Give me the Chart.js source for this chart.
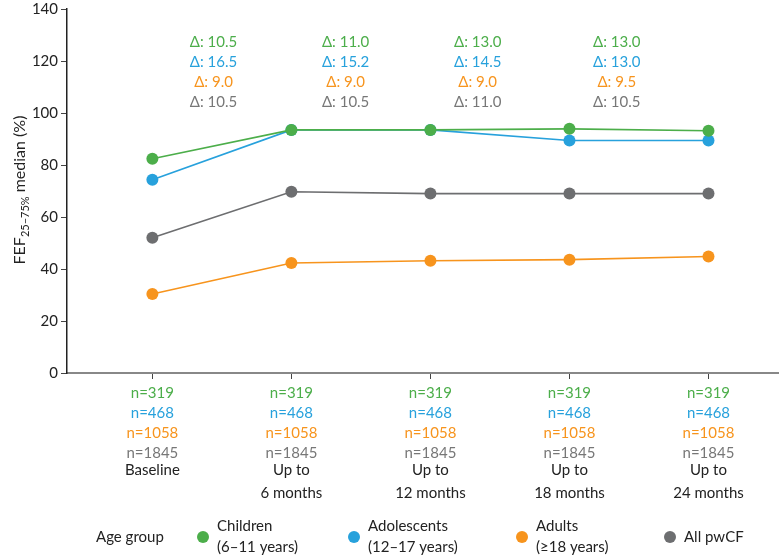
<!DOCTYPE html>
<html>
<head>
<meta charset="utf-8">
<script src="https://cdn.jsdelivr.net/npm/chart.js@4/dist/chart.umd.min.js"></script>
<style>
  html, body { margin: 0; padding: 0; background: #fff; }
</style>
</head>
<body>
<canvas id="fefChart" width="784" height="558"></canvas>
<script>
// Категории по оси X
const categories = [['Baseline'], ['Up to', '6 months'], ['Up to', '12 months'], ['Up to', '18 months'], ['Up to', '24 months']];

// Медиана FEF25–75% по группам
const children = [82.4, 93.5, 93.5, 93.9, 93.2];
const adolescents = [74.3, 93.5, 93.5, 89.4, 89.4];
const adults = [30.4, 42.3, 43.2, 43.6, 44.8];
const allPwCF = [52.0, 69.7, 69.0, 69.0, 69.0];

// Число пациентов в каждой точке
const nChildren = [319, 319, 319, 319, 319];
const nAdolescents = [468, 468, 468, 468, 468];
const nAdults = [1058, 1058, 1058, 1058, 1058];
const nAll = [1845, 1845, 1845, 1845, 1845];

// Разница (Δ) между точками
const deltaChildren = ['10.5', '11.0', '13.0', '13.0'];
const deltaAdolescents = ['16.5', '15.2', '14.5', '13.0'];
const deltaAdults = ['9.0', '9.0', '9.0', '9.5'];
const deltaAll = ['10.5', '10.5', '11.0', '10.5'];

const yTicks = [0, 20, 40, 60, 80, 100, 120, 140];

const seriesNames = [['Children', '(6–11 years)'], ['Adolescents', '(12–17 years)'], ['Adults', '(≥18 years)'], ['All pwCF']];

const GREEN = '#4cae4a';
const BLUE = '#27a1dc';
const ORANGE = '#f7941d';
const GREY = '#6d6e70';
const FONT = 'Lato';

const toPoints = arr => arr.map((v, i) => ({ x: i, y: v }));

// Подписи n=, Δ, заголовок оси Y и легенда
const annotations = {
  id: 'annotations',
  afterDraw(chart) {
    const c = chart.ctx;
    const x = chart.scales.x;
    c.save();
    c.font = '15px ' + FONT;
    c.textAlign = 'center';
    c.textBaseline = 'middle';

    // n= под осью
    const nRows = [[nChildren, GREEN], [nAdolescents, BLUE], [nAdults, ORANGE], [nAll, '#777']];
    nRows.forEach(([arr, col], r) => {
      c.fillStyle = col;
      arr.forEach((n, i) => c.fillText('n=' + n, x.getPixelForValue(i), 393 + r * 20));
    });

    // Δ над графиком
    const dRows = [[deltaChildren, GREEN], [deltaAdolescents, BLUE], [deltaAdults, ORANGE], [deltaAll, '#777']];
    const dPos = [0.44, 1.39, 2.34, 3.34];
    dRows.forEach(([arr, col], r) => {
      c.fillStyle = col;
      arr.forEach((d, i) => c.fillText('Δ: ' + d, x.getPixelForValue(dPos[i]), 42 + r * 20));
    });

    // Заголовок оси Y с нижним индексом
    c.save();
    c.translate(20, 190);
    c.rotate(-Math.PI / 2);
    c.fillStyle = '#222';
    c.textAlign = 'left';
    const p1 = 'FEF', p2 = '25–75%', p3 = ' median (%)';
    c.font = '16px ' + FONT;
    const w1 = c.measureText(p1).width, w3 = c.measureText(p3).width;
    c.font = '11px ' + FONT;
    const w2 = c.measureText(p2).width;
    let sx = -(w1 + w2 + w3) / 2;
    c.font = '16px ' + FONT;
    c.fillText(p1, sx, 0);
    c.font = '11px ' + FONT;
    c.fillText(p2, sx + w1, 5);
    c.font = '16px ' + FONT;
    c.fillText(p3, sx + w1 + w2, 0);
    c.restore();

    // Легенда
    const ly = 537;
    c.textAlign = 'left';
    c.fillStyle = '#222';
    c.fillText('Age group', 96, ly);
    const lx = [203, 354, 522, 670];
    const lc = [GREEN, BLUE, ORANGE, GREY];
    seriesNames.forEach((lines, i) => {
      c.fillStyle = lc[i];
      c.beginPath();
      c.arc(lx[i], ly, 6, 0, Math.PI * 2);
      c.fill();
      c.fillStyle = '#222';
      if (lines.length === 1) {
        c.fillText(lines[0], lx[i] + 14, ly);
      } else {
        c.fillText(lines[0], lx[i] + 14, ly - 11);
        c.fillText(lines[1], lx[i] + 14, ly + 10);
      }
    });
    c.restore();
  }
};

const mk = (label, data, color) => ({
  label, data: toPoints(data),
  borderColor: color, backgroundColor: color,
  pointBackgroundColor: color, pointBorderWidth: 0,
  pointRadius: 6, borderWidth: 1.6, tension: 0
});

new Chart(document.getElementById('fefChart'), {
  type: 'line',
  data: {
    datasets: [
      mk('Children (6–11 years)', children, GREEN),
      mk('Adolescents (12–17 years)', adolescents, BLUE),
      mk('Adults (≥18 years)', adults, ORANGE),
      mk('All pwCF', allPwCF, GREY)
    ]
  },
  options: {
    responsive: false,
    animation: false,
    devicePixelRatio: 1,
    layout: { padding: { top: 9, right: 0, bottom: 0, left: 0 } },
    plugins: { legend: { display: false }, tooltip: { enabled: false } },
    scales: {
      x: {
        type: 'linear',
        min: -0.614,
        max: 4.50,
        afterBuildTicks: s => { s.ticks = categories.map((_, i) => ({ value: i })); },
        afterFit: s => { s.height = 185; s.paddingLeft = 0; s.paddingRight = 0; },
        ticks: {
          callback: v => categories[v],
          color: '#222',
          font: { family: FONT, size: 15, lineHeight: 1.53 },
          padding: 80,
          maxRotation: 0,
          autoSkip: false
        },
        grid: { drawOnChartArea: false, tickLength: 6, color: '#444' },
        border: { color: '#888', width: 2 }
      },
      y: {
        min: 0,
        max: 140,
        afterBuildTicks: s => { s.ticks = yTicks.map(v => ({ value: v })); },
        afterFit: s => { s.width = 67; s.paddingTop = 0; s.paddingBottom = 0; },
        ticks: { color: '#222', font: { family: FONT, size: 15 }, padding: 3 },
        grid: { drawOnChartArea: false, tickLength: 6, color: '#444' },
        border: { color: '#222', width: 1.5 }
      }
    }
  },
  plugins: [annotations]
});
</script>
</body>
</html>
